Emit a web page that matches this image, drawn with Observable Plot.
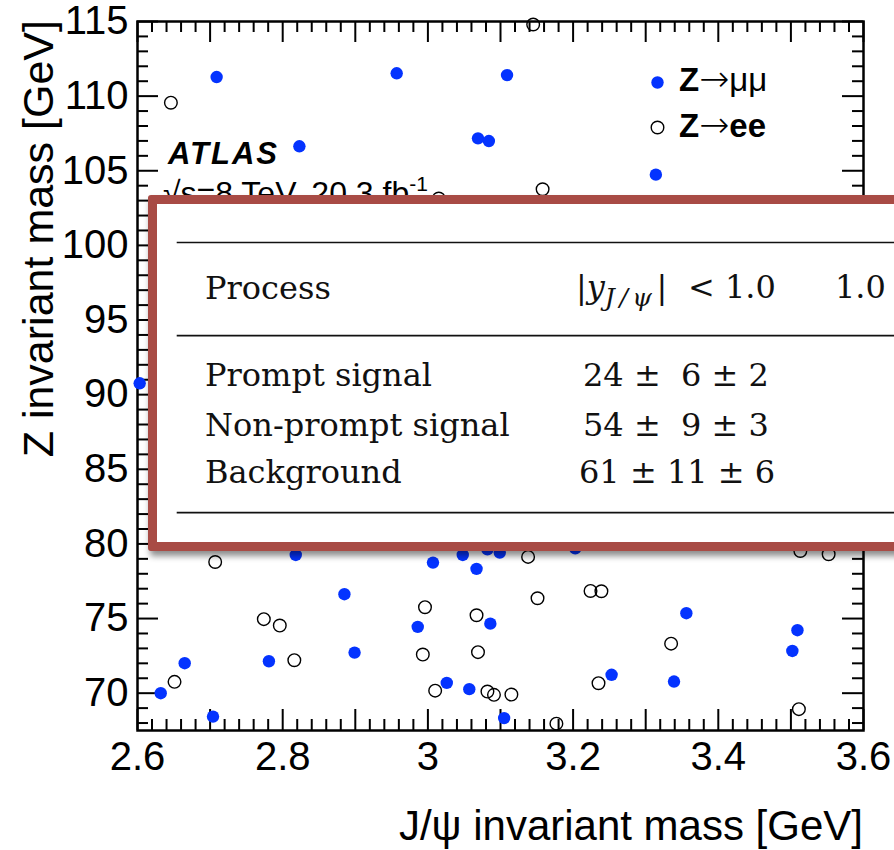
<!DOCTYPE html>
<html><head><meta charset="utf-8">
<script src="https://cdn.jsdelivr.net/npm/d3@7"></script>
<script src="https://cdn.jsdelivr.net/npm/@observablehq/plot@0.6"></script>
<style>
html,body{margin:0;padding:0;background:#fff;overflow:hidden;width:894px;height:850px;}
#wrap{position:relative;width:894px;height:850px;overflow:hidden;background:#fff;}
#wrap > svg{position:absolute;left:0;top:0;}
#tablebox{position:absolute;left:148px;top:195px;width:800px;height:338px;border:9.5px solid #a84b45;border-radius:3px;background:#fff;box-shadow:2px 5px 6px rgba(0,0,0,0.45);z-index:1;}
#tablesvg{position:absolute;left:0;top:0;z-index:2;pointer-events:none;}
</style></head><body><div id="wrap"></div>
<script>
// ---- data: Z->mumu candidates (J/psi mass, Z mass) in GeV
const muJpsiMass = [2.709, 2.957, 2.823, 3.109, 3.069, 3.084, 3.314, 2.603, 2.818, 3.007,
  2.885, 2.986, 2.899, 2.665, 2.781, 2.632, 2.704, 3.026, 3.048, 3.082, 3.099, 3.203,
  3.067, 3.086, 3.356, 3.509, 3.502, 3.253, 3.339, 3.057, 3.105];
const muZMass = [111.28, 111.53, 106.64, 111.41, 107.17, 106.99, 104.74, 90.76, 79.26, 78.75,
  76.63, 74.44, 72.72, 72.01, 72.14, 70.0, 68.43, 70.69, 79.26, 79.64, 79.42, 79.71,
  78.33, 74.66, 75.36, 74.22, 72.83, 71.23, 70.78, 70.27, 68.33];
// ---- data: Z->ee candidates
const eeJpsiMass = [2.646, 3.145, 3.158, 3.015, 2.707, 2.996, 2.774, 2.796, 2.993, 2.816,
  2.651, 3.010, 3.138, 3.151, 3.224, 3.239, 3.067, 3.335, 3.069, 3.235, 3.082, 3.091,
  3.115, 3.177, 3.511, 3.513, 3.552];
const eeZMass = [109.56, 114.8, 103.76, 103.14, 78.79, 75.76, 74.96, 74.53, 72.59, 72.21,
  70.76, 70.17, 79.13, 76.36, 76.85, 76.83, 75.22, 73.32, 72.75, 70.67, 70.11, 69.89,
  69.91, 67.96, 68.93, 79.53, 79.31];

// ---- axes
const xTickValues = [2.6, 2.8, 3.0, 3.2, 3.4, 3.6];
const xTickLabels = ["2.6", "2.8", "3", "3.2", "3.4", "3.6"];
const yTickValues = [70, 75, 80, 85, 90, 95, 100, 105, 110, 115];
const xAxisTitle = "J/\u03C8 invariant mass [GeV]";
const yAxisTitle = "Z invariant mass [GeV]";
const legendLabels = [["Z", "\u2192", "\u03BC\u03BC"], ["Z", "\u2192", "ee"]];

// ---- table
const tableProcesses = ["Prompt signal", "Non-prompt signal", "Background"];
const yieldCentral = [24, 54, 61];
const yieldStat = [6, 9, 11];
const yieldSyst = [2, 3, 6];

// ---- derived tick sets
const majorX = d3.range(0, 11).map(i => +(2.6 + i * 0.1).toFixed(2));
const minorX = d3.range(0, 51).map(i => +(2.6 + i * 0.02).toFixed(2)).filter(v => !majorX.includes(v));
const majorY = d3.range(70, 116, 5);
const minorY = d3.range(68, 115).filter(v => v % 5 !== 0);

const muData = muJpsiMass.map((x, i) => ({x, y: muZMass[i]}));
const eeData = eeJpsiMass.map((x, i) => ({x, y: eeZMass[i]}));

const blue = "#0433ff";
const sans = "'Liberation Sans', Arial, Helvetica, sans-serif";
const serif = "'DejaVu Serif', serif";

const W = 894, H = 850, mL = 137, mR = 31, mT = 21, mB = 120;
const fw = W - mL - mR, fh = H - mT - mB;
const major = 21, minor = 11;
const tk = {stroke: "black", strokeWidth: 2};

const plot = Plot.plot({
  width: W, height: H,
  marginLeft: mL, marginRight: mR, marginTop: mT, marginBottom: mB,
  style: {fontFamily: sans, background: "white", color: "black", overflow: "visible"},
  x: {domain: [2.6, 3.6], label: null},
  y: {domain: [67.5, 115], label: null},
  marks: [
    Plot.axisX(xTickValues, {anchor: "bottom", tickSize: 0, tickPadding: 11, fontSize: 40,
      tickFormat: d => xTickLabels[xTickValues.indexOf(d)], label: null}),
    Plot.axisY(yTickValues, {anchor: "left", tickSize: 0, tickPadding: 9, fontSize: 40, label: null}),
    // inward ticks on all four sides
    Plot.ruleX(majorX, {x: d => d, insetTop: fh - major, ...tk}),
    Plot.ruleX(minorX, {x: d => d, insetTop: fh - minor, ...tk}),
    Plot.ruleX(majorX, {x: d => d, insetBottom: fh - major, ...tk}),
    Plot.ruleX(minorX, {x: d => d, insetBottom: fh - minor, ...tk}),
    Plot.ruleY(majorY, {y: d => d, insetRight: fw - major, ...tk}),
    Plot.ruleY(minorY, {y: d => d, insetRight: fw - minor, ...tk}),
    Plot.ruleY(majorY, {y: d => d, insetLeft: fw - major, ...tk}),
    Plot.ruleY(minorY, {y: d => d, insetLeft: fw - minor, ...tk}),
    Plot.frame({stroke: "black", strokeWidth: 2.5}),
    Plot.dot(eeData, {x: "x", y: "y", r: 6.3, stroke: "black", strokeWidth: 1.4, fill: "none"}),
    Plot.dot(muData, {x: "x", y: "y", r: 6.2, fill: blue}),
    // legend markers
    Plot.dot([0], {frameAnchor: "top-left", dx: 520, dy: 61, r: 6.2, fill: blue}),
    Plot.dot([0], {frameAnchor: "top-left", dx: 520, dy: 106, r: 6.3, stroke: "black", strokeWidth: 1.4, fill: "none"})
  ]
});

const wrap = document.getElementById("wrap");
wrap.appendChild(plot);
const svg = d3.select(plot);
const ann = svg.append("g").attr("text-anchor", "start").attr("font-family", sans).attr("fill", "black");

// axis titles
ann.append("text").attr("x", 863).attr("y", 840).attr("text-anchor", "end")
  .attr("font-size", 42).text(xAxisTitle);
ann.append("text").attr("transform", "translate(53,20) rotate(-90)").attr("text-anchor", "end")
  .attr("font-size", 43).text(yAxisTitle);

// legend text
const arrowFont = "'DejaVu Sans', sans-serif";
const lg1 = ann.append("text").attr("x", 679).attr("y", 91).attr("font-size", 33);
lg1.append("tspan").attr("font-weight", "bold").text(legendLabels[0][0]);
lg1.append("tspan").attr("font-family", arrowFont).attr("font-size", 36).attr("font-weight", 200).text(legendLabels[0][1]);
lg1.append("tspan").text(legendLabels[0][2]);
const lg2 = ann.append("text").attr("x", 679).attr("y", 137).attr("font-size", 33);
lg2.append("tspan").attr("font-weight", "bold").text(legendLabels[1][0]);
lg2.append("tspan").attr("font-family", arrowFont).attr("font-size", 36).attr("font-weight", 200).text(legendLabels[1][1]);
lg2.append("tspan").attr("font-weight", "bold").text(legendLabels[1][2]);

// ATLAS label
ann.append("text").attr("x", 168).attr("y", 164).attr("font-size", 31)
  .attr("font-weight", "bold").attr("font-style", "italic").attr("letter-spacing", 2).text("ATLAS");
const lum = ann.append("text").attr("x", 163).attr("y", 204).attr("font-size", 32);
lum.append("tspan").text("\u221As=8 TeV, 20.3 fb");
lum.append("tspan").attr("font-size", 21).attr("dy", -13).text("-1");

// table overlay
const box = document.createElement("div");
box.id = "tablebox";
wrap.appendChild(box);
const tsvg = d3.select(wrap).append("svg").attr("id", "tablesvg").attr("width", W).attr("height", H);
const tb = tsvg.append("g").attr("font-family", serif).attr("font-size", 32).attr("fill", "#111").attr("text-anchor", "start");
[242.5, 335.7, 512.7].forEach(yy => {
  tb.append("line").attr("x1", 176.7).attr("x2", 900).attr("y1", yy).attr("y2", yy)
    .attr("stroke", "#111").attr("stroke-width", 1.7);
});
tb.append("text").attr("x", 205).attr("y", 299).text("Process");
const h1 = tb.append("text").attr("x", 576).attr("y", 298);
h1.append("tspan").text("|");
h1.append("tspan").attr("font-style", "italic").text("y");
h1.append("tspan").attr("font-style", "italic").attr("font-size", 25).attr("letter-spacing", 4.5).attr("dy", 8).text("J/\u03C8");
h1.append("tspan").attr("dy", -8).text("|");
tb.append("text").attr("x", 688).attr("y", 298).text("< 1.0");
tb.append("text").attr("x", 835).attr("y", 298).text("1.0");
const rowY = [386, 436, 483];
tableProcesses.forEach((p, i) => {
  tb.append("text").attr("x", 205).attr("y", rowY[i]).text(p);
  const pad = v => v < 10 ? "\u2007" + v : String(v);
  tb.append("text").attr("x", yieldCentral[i] >= 60 ? 579 : 583).attr("y", rowY[i])
    .text(`${yieldCentral[i]} \u00B1${yieldStat[i] < 10 ? "" : " "}${pad(yieldStat[i])} \u00B1 ${yieldSyst[i]}`);
});
</script>
</body></html>
